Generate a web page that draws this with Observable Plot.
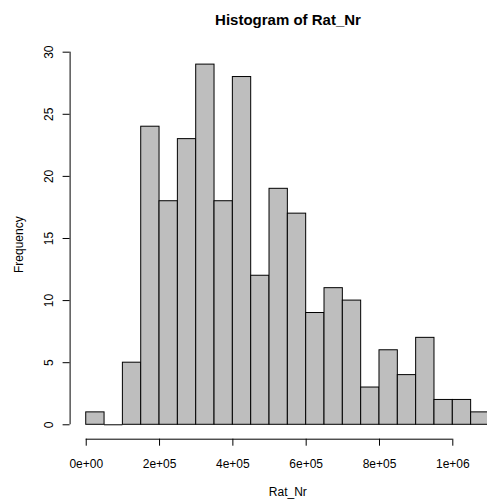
<!DOCTYPE html>
<html><head><meta charset="utf-8">
<script src="https://cdn.jsdelivr.net/npm/d3@7"></script>
<script src="https://cdn.jsdelivr.net/npm/@observablehq/plot@0.6"></script>
<style>
body{margin:0;background:#fff;}
#wrap{position:relative;width:487px;height:500px;overflow:hidden;font-family:"Liberation Sans",Arial,Helvetica,sans-serif;color:#000;}
#title{position:absolute;top:12px;left:288px;transform:translateX(-50%);font-size:15px;font-weight:bold;line-height:15px;white-space:nowrap;}
</style></head>
<body><div id="wrap"><div id="chart"></div><div id="title">Histogram of Rat_Nr</div></div>
<script>
const title = "Histogram of Rat_Nr";
const xLabel = "Rat_Nr";
const yLabel = "Frequency";
const breaks = [0,50000,100000,150000,200000,250000,300000,350000,400000,450000,500000,550000,600000,650000,700000,750000,800000,850000,900000,950000,1000000,1050000,1100000];
const counts = [1,0,5,24,18,23,29,18,28,12,19,17,9,11,10,3,6,4,7,2,2,1];
const xTicks = [0,200000,400000,600000,800000,1000000];
const xTickLabels = ["0e+00","2e+05","4e+05","6e+05","8e+05","1e+06"];
const yTicks = [0,5,10,15,20,25,30];
const yTickLabels = ["0","5","10","15","20","25","30"];

const bins = counts.map((c, i) => ({x1: breaks[i], x2: breaks[i + 1], count: c}));
const xDomain = [-44000, 1144000];
const yDomain = [-1.16, 30.16];
const xMid = (xDomain[0] + xDomain[1]) / 2;

const chart = Plot.plot({
  width: 487,
  height: 500,
  marginTop: 49.7,
  marginBottom: 61.3,
  marginLeft: 69.6,
  marginRight: 0,
  style: {fontFamily: '"Liberation Sans", Arial, Helvetica, sans-serif', fontSize: "12px", background: "white", color: "black", overflow: "hidden"},
  x: {domain: xDomain, range: [69.6, 505.1]},
  y: {domain: yDomain},
  marks: [
    Plot.rectY(bins, {x1: "x1", x2: "x2", y1: 0, y2: "count", fill: "#BEBEBE", stroke: "black", strokeWidth: 1, inset: 0}),
    Plot.ruleY(bins.filter(d => d.count === 0), {x1: "x1", x2: "x2", y: 0, stroke: "black", strokeWidth: 1}),
    Plot.ruleY([yDomain[0]], {x1: xTicks[0], x2: xTicks[xTicks.length - 1], stroke: "black"}),
    Plot.ruleX([xDomain[0]], {y1: yTicks[0], y2: yTicks[yTicks.length - 1], stroke: "black"}),
    Plot.axisX({ticks: xTicks, tickSize: 7, tickPadding: 13, fontSize: 12, tickFormat: d => xTickLabels[xTicks.indexOf(d)], label: null}),
    Plot.axisY({ticks: yTicks, tickSize: 7, tickPadding: 10, tickRotate: -90, fontSize: 12, tickFormat: d => yTickLabels[yTicks.indexOf(d)], label: null}),
    Plot.text([xLabel], {x: () => xMid, frameAnchor: "bottom", lineAnchor: "bottom", textAnchor: "middle", dy: 56.5, text: d => d, fontSize: 12}),
    Plot.text([yLabel], {frameAnchor: "left", rotate: -90, lineAnchor: "bottom", textAnchor: "middle", dx: -47, text: d => d, fontSize: 12})
  ]
});
document.getElementById("chart").appendChild(chart);
document.getElementById("title").textContent = title;
</script>
</body></html>
